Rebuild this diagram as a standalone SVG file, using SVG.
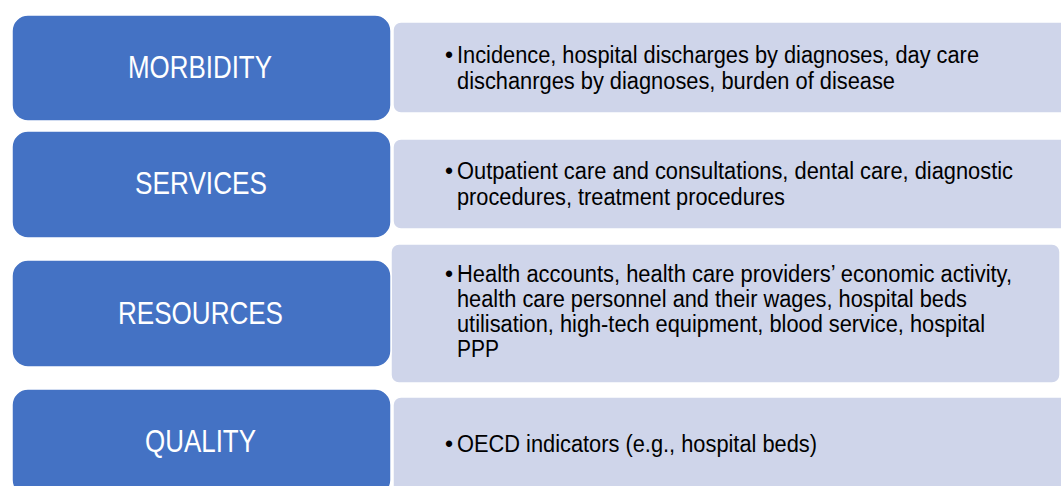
<svg xmlns="http://www.w3.org/2000/svg" width="1061" height="486" viewBox="0 0 1061 486">
  <style>
    .cat { fill: #4472C4; stroke: #FFFFFF; stroke-width: 1.5; }
    .det { fill: #CFD5EA; stroke: #FFFFFF; stroke-width: 1.5; }
    .lbl { font-family: "Liberation Sans", Arial, sans-serif; font-size: 31px; fill: #FFFFFF; }
    .txt { font-family: "Liberation Sans", Arial, sans-serif; font-size: 23px; fill: #000000; }
  </style>
  <rect width="1061" height="486" fill="#FFFFFF"/>

  <g id="morbidity-details">
    <rect class="det" x="393" y="22" width="676" height="91" rx="8"/>
    <text class="txt" x="445" y="63">•</text>
    <text class="txt" x="457" y="63" textLength="522" lengthAdjust="spacingAndGlyphs">Incidence, hospital discharges by diagnoses, day care</text>
    <text class="txt" x="457" y="89" textLength="438" lengthAdjust="spacingAndGlyphs">dischanrges by diagnoses, burden of disease</text>
  </g>
  <g id="morbidity">
    <rect class="cat" x="12" y="15" width="379" height="106" rx="16"/>
    <text class="lbl" x="128" y="78" textLength="144" lengthAdjust="spacingAndGlyphs">MORBIDITY</text>
  </g>

  <g id="services-details">
    <rect class="det" x="393" y="139" width="676" height="90" rx="8"/>
    <text class="txt" x="445" y="179">•</text>
    <text class="txt" x="457" y="179" textLength="556" lengthAdjust="spacingAndGlyphs">Outpatient care and consultations, dental care, diagnostic</text>
    <text class="txt" x="457" y="205" textLength="328" lengthAdjust="spacingAndGlyphs">procedures, treatment procedures</text>
  </g>
  <g id="services">
    <rect class="cat" x="12" y="131" width="379" height="107" rx="16"/>
    <text class="lbl" x="135" y="194" textLength="132" lengthAdjust="spacingAndGlyphs">SERVICES</text>
  </g>

  <g id="resources-details">
    <rect class="det" x="391" y="244" width="669" height="139" rx="8"/>
    <text class="txt" x="445" y="282">•</text>
    <text class="txt" x="457" y="282" textLength="555" lengthAdjust="spacingAndGlyphs">Health accounts, health care providers’ economic activity,</text>
    <text class="txt" x="457" y="307" textLength="510" lengthAdjust="spacingAndGlyphs">health care personnel and their wages, hospital beds</text>
    <text class="txt" x="457" y="332" textLength="528" lengthAdjust="spacingAndGlyphs">utilisation, high-tech equipment, blood service, hospital</text>
    <text class="txt" x="457" y="357" textLength="42" lengthAdjust="spacingAndGlyphs">PPP</text>
  </g>
  <g id="resources">
    <rect class="cat" x="12" y="260" width="379" height="107" rx="16"/>
    <text class="lbl" x="118" y="324" textLength="165" lengthAdjust="spacingAndGlyphs">RESOURCES</text>
  </g>

  <g id="quality-details">
    <rect class="det" x="393" y="397" width="676" height="100" rx="8"/>
    <text class="txt" x="445" y="452">•</text>
    <text class="txt" x="457" y="452" textLength="360" lengthAdjust="spacingAndGlyphs">OECD indicators (e.g., hospital beds)</text>
  </g>
  <g id="quality">
    <rect class="cat" x="12" y="389" width="379" height="107" rx="16"/>
    <text class="lbl" x="145" y="452" textLength="111" lengthAdjust="spacingAndGlyphs">QUALITY</text>
  </g>

  <g id="connectors"></g>
</svg>
